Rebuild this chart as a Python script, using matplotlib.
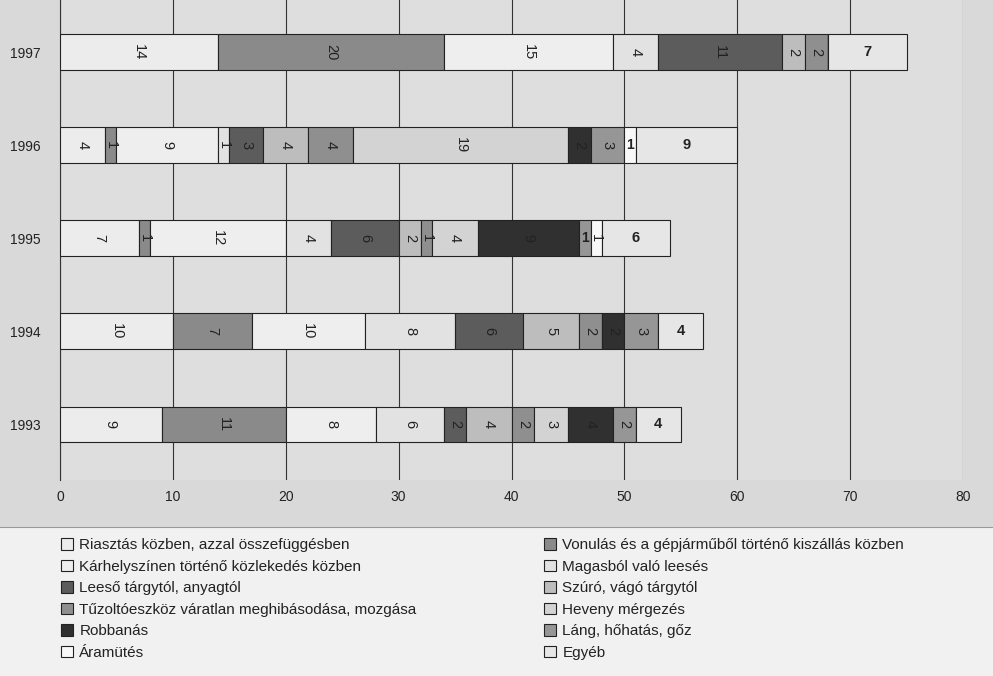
import matplotlib
matplotlib.use('Agg')
import matplotlib.pyplot as plt
from matplotlib.patches import Rectangle
import numpy as np

plt.rcParams['font.family'] = ['Liberation Sans', 'DejaVu Sans']

years = ["1993", "1994", "1995", "1996", "1997"]
categories = [
    "Riasztás közben, azzal összefüggésben",
    "Vonulás és a gépjárműből történő kiszállás közben",
    "Kárhelyszínen történő közlekedés közben",
    "Magasból való leesés",
    "Leeső tárgytól, anyagtól",
    "Szúró, vágó tárgytól",
    "Tűzoltóeszköz váratlan meghibásodása, mozgása",
    "Heveny mérgezés",
    "Robbanás",
    "Láng, hőhatás, gőz",
    "Áramütés",
    "Egyéb",
]
# one list per category, values for 1993..1997
riasztas   = [9, 10, 7, 4, 14]
vonulas    = [11, 7, 1, 1, 20]
karhely    = [8, 10, 12, 9, 15]
magasbol   = [6, 8, 4, 1, 4]
leeso      = [2, 6, 6, 3, 11]
szuro      = [4, 5, 2, 4, 2]
tuzolto    = [2, 2, 1, 4, 2]
heveny     = [3, 0, 4, 19, 0]
robbanas   = [4, 2, 9, 2, 0]
lang       = [2, 3, 1, 3, 0]
aramutes   = [0, 0, 1, 1, 0]
egyeb      = [4, 4, 6, 9, 7]
series = [riasztas, vonulas, karhely, magasbol, leeso, szuro, tuzolto,
          heveny, robbanas, lang, aramutes, egyeb]
xticks = [0, 10, 20, 30, 40, 50, 60, 70, 80]

colors = ["#ececec", "#8a8a8a", "#eeeeee", "#e2e2e2", "#5c5c5c", "#bdbdbd",
          "#8f8f8f", "#d3d3d3", "#303030", "#969696", "#f8f8f8", "#e6e6e6"]
# labels the scan shows upright rather than turned (year index, series index)
upright = {(2, 9), (3, 10)}

fig = plt.figure(figsize=(9.93, 6.76), dpi=100, facecolor="#d9d9d9")
fig.patches.append(Rectangle((0, 0), 1, 1 - 527 / 676, transform=fig.transFigure,
                             facecolor="#f1f1f1", edgecolor="none", zorder=0))
fig.lines.append(plt.Line2D([0, 1], [1 - 527 / 676] * 2, transform=fig.transFigure,
                            color="#9a9a9a", lw=0.8))

ax = fig.add_axes([60 / 993, 1 - 480 / 676, 903 / 993, 480 / 676])
ax.set_facecolor("#dedede")
ax.set_xlim(0, 80)
ax.set_ylim(-0.60, 4.56)

y = np.arange(len(years))
left = np.zeros(len(years))
for k, vals in enumerate(series):
    vals = np.array(vals, float)
    ax.barh(y, vals, left=left, height=0.38, color=colors[k],
            edgecolor="#222222", linewidth=0.8, zorder=3, label=categories[k])
    for i, v in enumerate(vals):
        if v <= 0:
            continue
        cx = left[i] + v / 2
        if k == len(series) - 1:
            ax.text(cx, y[i], "%d" % v, ha="center", va="center", fontsize=10.5,
                    fontweight="bold", color="#222222", zorder=5)
        elif (i, k) in upright:
            ax.text(cx, y[i], "%d" % v, ha="center", va="center", fontsize=10,
                    fontweight="bold", color="#222222", zorder=5)
        else:
            ax.text(cx, y[i], "%d" % v, ha="center", va="center", fontsize=10.5,
                    rotation=270, color="#222222", zorder=5)
    left += vals

ax.set_yticks(y)
ax.set_yticklabels(years)
ax.set_xticks(xticks)
ax.tick_params(axis="both", length=0, labelsize=10, colors="#222222")
ax.tick_params(axis="x", pad=7)
ax.tick_params(axis="y", pad=14)
ax.grid(axis="x", color="#333333", lw=0.8, zorder=1)
for s in ["top", "right", "bottom"]:
    ax.spines[s].set_visible(False)
ax.spines["left"].set_color("#333333")

h, l = ax.get_legend_handles_labels()
leg_kw = dict(loc="upper left", frameon=False, fontsize=11,
              handlelength=0.8, handleheight=0.8, handletextpad=0.4,
              labelspacing=0.48, labelcolor="#222222", borderaxespad=0)
# legend laid out row-wise in two columns
left_col = [0, 2, 4, 6, 8, 10]
right_col = [1, 3, 5, 7, 9, 11]
fig.legend([h[i] for i in left_col], [l[i] for i in left_col],
           bbox_to_anchor=(55 / 993, 1 - 532 / 676), **leg_kw)
fig.legend([h[i] for i in right_col], [l[i] for i in right_col],
           bbox_to_anchor=(538 / 993, 1 - 532 / 676), **leg_kw)

fig.savefig("out.png", dpi=100, facecolor=fig.get_facecolor())
